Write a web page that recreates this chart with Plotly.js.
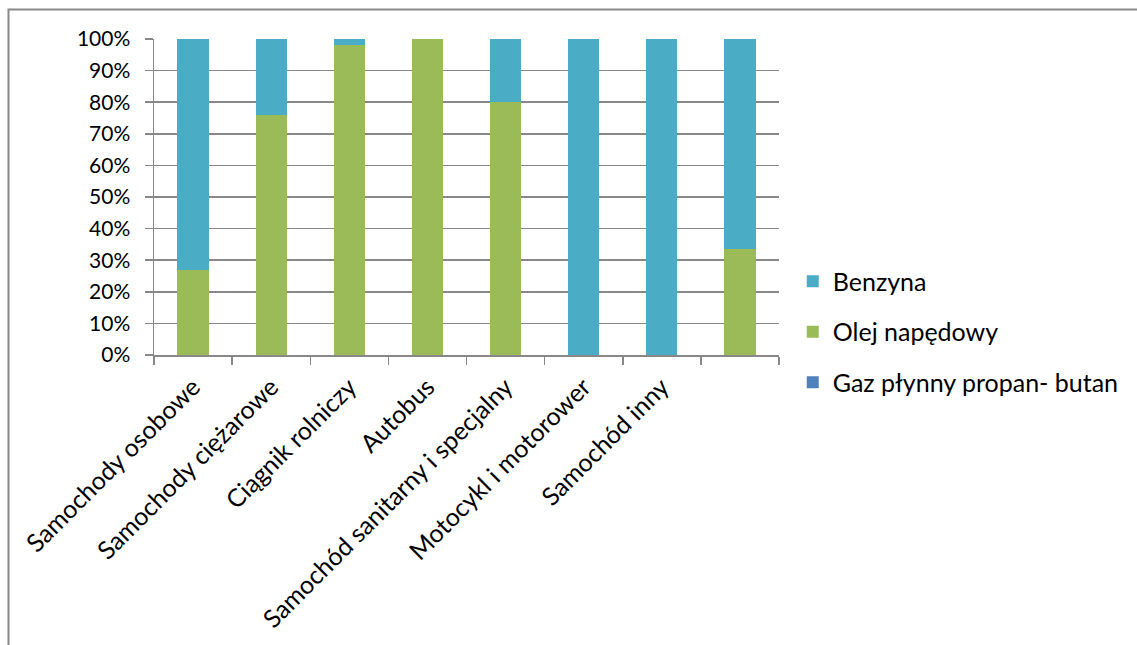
<!DOCTYPE html>
<html>
<head>
<meta charset="utf-8">
<script src="https://cdn.plot.ly/plotly-3.0.1.min.js"></script>
<style>html,body{margin:0;padding:0;background:#fff;}#chart{width:1137px;height:645px;}</style>
</head>
<body>
<div id="chart"></div>
<script>
const categories = ["Samochody osobowe", "Samochody ciężarowe", "Ciągnik rolniczy", "Autobus", "Samochód sanitarny i specjalny", "Motocykl i motorower", "Samochód inny", " "];
const gaz = [0, 0, 0, 0, 0, 0, 0, 0];
const olej = [0.27, 0.76, 0.98, 1.00, 0.80, 0, 0, 0.335];
const benzyna = [0.73, 0.24, 0.02, 0, 0.20, 1.00, 1.00, 0.665];
const yTicks = [0, 0.1, 0.2, 0.3, 0.4, 0.5, 0.6, 0.7, 0.8, 0.9, 1.0];
const yTickText = ["0%", "10%", "20%", "30%", "40%", "50%", "60%", "70%", "80%", "90%", "100%"];

const font = "Lato, 'Open Sans', sans-serif";
const traces = [
  {type: "bar", name: "Gaz płynny propan- butan", x: categories, y: gaz, marker: {color: "#4F81BD"}, legendgroup: "g", legendrank: 3, hoverinfo: "skip"},
  {type: "bar", name: "Olej napędowy", x: categories, y: olej, marker: {color: "#9BBB59"}, legendgroup: "o", legendrank: 2, hoverinfo: "skip"},
  {type: "bar", name: "Benzyna", x: categories, y: benzyna, marker: {color: "#4BACC6"}, legendgroup: "b", legendrank: 1, hoverinfo: "skip"}
];

const layout = {
  width: 1137, height: 645,
  paper_bgcolor: "#fff", plot_bgcolor: "#fff",
  barmode: "stack", bargap: 0.6,
  margin: {l: 154, r: 358, t: 39, b: 290},
  font: {family: font, size: 21, color: "#000"},
  showlegend: true,
  legend: {x: 1.022, y: 0.073, xanchor: "left", yanchor: "middle", traceorder: "grouped",
           tracegroupgap: 15, font: {family: font, size: 25, color: "#000"}, itemwidth: 30},
  xaxis: {type: "category", categoryorder: "array", categoryarray: categories,
          tickangle: -45, tickson: "boundaries", ticks: "outside", ticklen: 8, tickcolor: "#888", tickwidth: 1.5,
          ticklabelstandoff: 6,
          showline: true, linecolor: "#888", linewidth: 1.5, showgrid: false,
          tickfont: {family: font, size: 25, color: "#000"}, fixedrange: true},
  yaxis: {range: [0, 1], tickvals: yTicks, ticktext: yTickText, ticks: "outside", ticklen: 8,
          ticklabelstandoff: 10,
          tickcolor: "#888", tickwidth: 1.5, showline: true, linecolor: "#888", linewidth: 1.5,
          showgrid: true, gridcolor: "#888", gridwidth: 1.5, zeroline: false,
          tickfont: {family: font, size: 21, color: "#000"}, fixedrange: true},
  shapes: [
    {type: "rect", xref: "paper", yref: "paper",
     x0: (8.5 - 154) / (1137 - 154 - 358), x1: (1145 - 154) / (1137 - 154 - 358),
     y0: -(655 - 39 - 316) / 316, y1: 1 + (39 - 9.5) / 316,
     line: {color: "#888", width: 2}, fillcolor: "rgba(0,0,0,0)", layer: "below"}
  ]
};

Plotly.newPlot("chart", traces, layout, {staticPlot: true, displayModeBar: false});
</script>
</body>
</html>
